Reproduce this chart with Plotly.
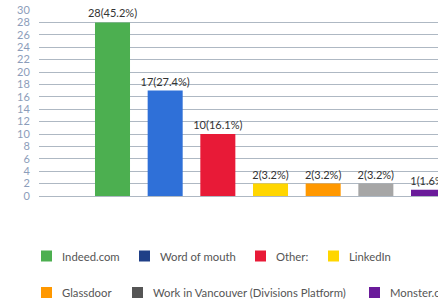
import plotly.graph_objects as go

categories = ["Indeed.com", "Word of mouth", "Other:", "LinkedIn", "Glassdoor",
              "Work in Vancouver (Divisions Platform)", "Monster.com"]
counts = [28, 17, 10, 2, 2, 2, 1]
percents = [45.2, 27.4, 16.1, 3.2, 3.2, 3.2, 1.6]
bar_colors = ["#4caf50", "#2f70d8", "#e81a37", "#ffd600", "#ff9800", "#a6a6a6", "#6a1b9a"]
legend_colors = ["#4caf50", "#1f3f87", "#e81a37", "#ffd600", "#ff9800", "#555555", "#6a1b9a"]
y_ticks = list(range(0, 31, 2))

labels = [f"{c}({p}%)" for c, p in zip(counts, percents)]

W, H = 438, 302
L, R, T, B = 39, 0, 10, 106
pw, ph = W - L - R, H - T - B


def px2x(px):
    return (px - L) / pw


def px2y(py):
    return (H - B - py) / ph


fig = go.Figure()
fig.add_trace(go.Bar(
    x=list(range(len(categories))),
    y=counts,
    marker=dict(color=bar_colors, line=dict(width=0)),
    text=labels,
    textposition="outside",
    cliponaxis=False,
    constraintext="none",
    textfont=dict(family="Lato", size=11, color="#333333"),
    hoverinfo="skip",
    showlegend=False,
))

# manual legend
legend_pos = [(41, 256), (139, 256), (255, 256), (328, 256),
              (41, 292.5), (132, 292.5), (369, 292.5)]
shapes = []
annotations = []
for name, col, (sx, sy) in zip(categories, legend_colors, legend_pos):
    shapes.append(dict(type="rect", xref="paper", yref="paper",
                       x0=px2x(sx), x1=px2x(sx + 11),
                       y0=px2y(sy + 5.5), y1=px2y(sy - 5.5),
                       fillcolor=col, line=dict(width=0)))
    annotations.append(dict(xref="paper", yref="paper", x=px2x(sx + 19), y=px2y(sy),
                            xanchor="left", yanchor="middle", showarrow=False,
                            text=name, font=dict(family="Lato", size=11.3, color="#555555")))

c0, step = 112.5, 52.67
fig.update_layout(
    width=W, height=H,
    margin=dict(l=L, r=R, t=T, b=B, pad=0),
    paper_bgcolor="white", plot_bgcolor="white",
    bargap=0.335,
    shapes=shapes,
    annotations=annotations,
    xaxis=dict(range=[(L - c0) / step, (W - R - c0) / step], showticklabels=False,
               showgrid=False, zeroline=False, showline=False, fixedrange=True),
    yaxis=dict(range=[0, 30], tickvals=y_ticks, showgrid=True, gridcolor="#aeb8c3",
               gridwidth=1, zeroline=True, zerolinecolor="#aeb8c3", zerolinewidth=1,
               ticks="outside", ticklen=6, tickcolor="rgba(0,0,0,0)",
               tickfont=dict(family="Lato", size=11, color="#8c9dba"), fixedrange=True),
    font=dict(family="Lato"),
)

fig.write_html("out.html", config={"displayModeBar": False},
               post_script="document.body.style.margin='0';document.body.style.overflow='hidden';")
